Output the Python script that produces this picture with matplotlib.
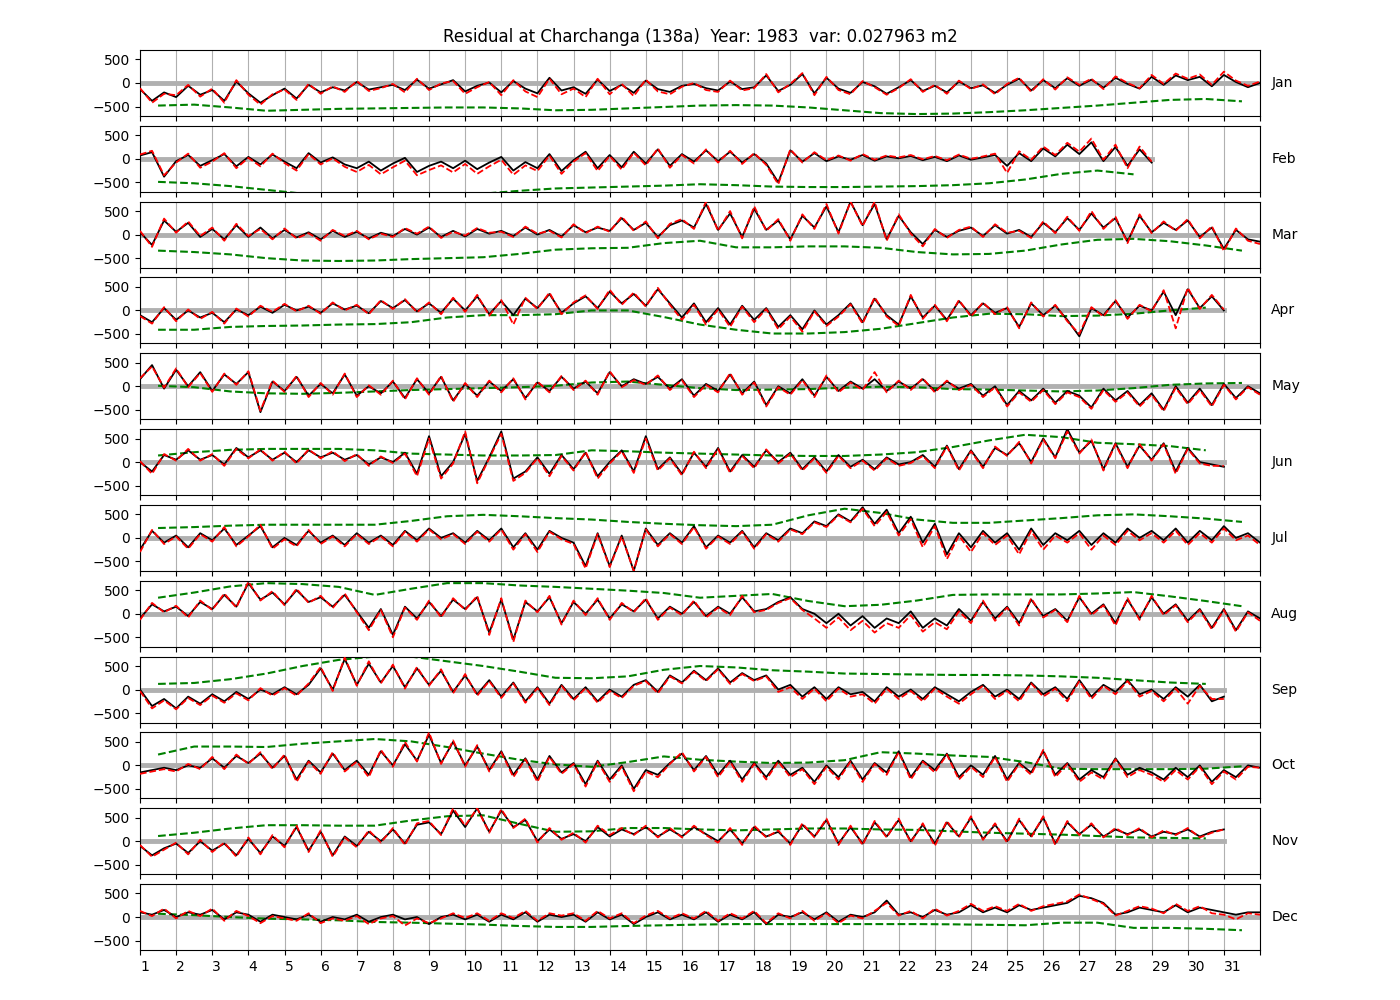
import numpy as np
import matplotlib
matplotlib.use("Agg")
import matplotlib.pyplot as plt

months = ["Jan", "Feb", "Mar", "Apr", "May", "Jun", "Jul", "Aug", "Sep", "Oct", "Nov", "Dec"]
ndays = [31, 28, 31, 30, 31, 30, 31, 31, 30, 31, 30, 31]
samples_per_day = 3

obs_jan = [-130, -380, -200, -300, -60, -250, -150, -380, 30, -220, -420, -260, -120, -330, -40,
           -200, -90, -160, 20, -140, -90, -40, -150, 70, -120, -30, 60, -180, -60, 10,
           -200, 40, -120, -220, 110, -160, -90, -230, 70, -170, -40, -210, 50, -130, -190,
           -60, -20, -110, -160, 30, -130, -90, 160, -170, -40, 190, -220, 110, -120, -210,
           20, -70, -230, -90, 60, -170, -60, -200, 30, -110, -50, -210, -40, 90, -160,
           60, -110, 100, -60, 70, -100, 110, -20, -120, 130, -40, 160, 60, 130, -70,
           170, 20, -90, 0]
sim_jan = [-110, -420, -230, -260, -40, -290, -120, -420, 60, -250, -460, -240, -140, -360, -20,
           -230, -70, -190, 40, -170, -110, -20, -200, 90, -150, -10, 40, -230, -90, 20,
           -260, 60, -180, -300, 90, -240, -120, -300, 90, -240, -20, -280, 70, -180, -240,
           -80, 0, -150, -190, 50, -160, -110, 190, -200, -20, 210, -260, 130, -150, -240,
           40, -90, -250, -110, 80, -190, -40, -230, 50, -130, -30, -240, -20, 110, -190,
           80, -140, 120, -40, 90, -130, 140, 0, -110, 170, -20, 200, 90, 180, -40,
           240, 50, -60, 30]
avg_jan = [-480, -460, -520, -590, -570, -550, -540, -530, -520, -520, -540, -580, -570, -540, -510,
           -480, -470, -480, -520, -580, -640, -660, -650, -620, -580, -530, -480, -420, -360, -340, -390]

obs_feb = [70, 140, -380, -50, 80, -150, -30, 100, -160, 40, -120, 90, -60, -200, 120,
           -80, 30, -120, -200, -60, -250, -100, 20, -280, -150, -60, -200, -40, -220, -80,
           40, -250, -70, -200, 100, -260, -30, 150, -200, 80, -180, 150, -100, 200, -150,
           100, -60, 180, -50, 150, -80, 100, -100, -500, 180, -60, 120, -50, 50, -20,
           80, -40, 50, 10, 60, -30, 40, -50, 70, -20, 30, 80, -150, 120, -50,
           220, 50, 300, 100, 350, -50, 250, -150, 200, -80]
sim_feb = [90, 170, -350, -80, 110, -190, -60, 120, -200, 20, -160, 110, -90, -250, 100,
           -120, 10, -170, -280, -130, -330, -180, -40, -350, -240, -140, -290, -110, -320, -160,
           -20, -340, -140, -260, 70, -320, -60, 120, -260, 60, -230, 130, -140, 220, -190,
           80, -100, 200, -80, 170, -110, 120, -130, -540, 200, -80, 140, -30, 70, -40,
           100, -20, 70, 30, 80, -10, 60, -30, 90, 0, 50, 110, -300, 160, -20,
           260, 80, 340, 150, 430, -20, 300, -200, 260, -60]
avg_feb = [-490, -520, -580, -660, -740, -780, -800, -800, -780, -740, -680, -630, -610, -590,
           -570, -540, -560, -590, -600, -600, -590, -580, -560, -520, -440, -320, -250, -330]

obs_mar = [50, -220, 300, 60, 250, -50, 120, -100, 200, -50, 150, -80, 100, -60, 50,
           -100, 80, -50, 60, -80, 40, -30, 120, 0, 150, -50, 80, -40, 120, 20,
           80, -30, 150, 0, 100, -40, 200, 50, 150, 80, 350, 100, 250, -50, 200,
           300, 150, 650, 100, 450, -50, 550, 100, 300, -100, 400, 150, 600, 50, 700,
           200, 650, -100, 400, 50, -200, 100, -50, 80, 150, -30, 200, 20, 100, -50,
           250, 50, 350, 100, 450, 150, 350, -150, 400, 50, 250, 100, 300, -50, 150,
           -300, 100, -100, -150]
sim_mar = [80, -260, 340, 40, 280, -30, 150, -130, 230, -30, 120, -100, 130, -80, 30,
           -130, 100, -30, 80, -100, 20, -50, 140, 20, 170, -70, 60, -20, 140, 40,
           60, -50, 170, 20, 80, -60, 220, 30, 170, 60, 380, 80, 280, -80, 230,
           330, 120, 700, 80, 500, -80, 600, 80, 330, -130, 430, 120, 650, 20, 700,
           180, 700, -130, 430, 20, -250, 120, -70, 100, 170, -50, 220, 40, 80, -70,
           280, 30, 380, 80, 500, 120, 380, -180, 430, 30, 280, 80, 330, -80, 180,
           -350, 130, -130, -200]
avg_mar = [-340, -370, -420, -500, -550, -560, -550, -520, -500, -480, -410, -320, -290, -280, -180,
           -130, -270, -270, -250, -250, -280, -370, -420, -410, -340, -210, -110, -90, -140, -230, -340]

obs_apr = [-100, -250, 50, -200, 0, -150, -50, -250, 20, -100, 80, -50, 120, 0, 80,
           -50, 150, 20, 100, -60, 200, 50, 220, -20, 150, -50, 250, 0, 300, -80,
           200, -100, 250, 50, 350, -50, 150, 300, 50, 400, 150, 350, 100, 450, 150,
           -150, 150, -250, 50, -300, 100, -200, 50, -350, -100, -400, 0, -300, -100, 150,
           -250, 250, -100, -300, 300, -150, 100, -200, 200, -100, 150, -50, 50, -350, 150,
           -100, 100, -200, -550, 50, -100, 200, -150, 100, 0, 400, -100, 450, 50, 300, 0]
sim_apr = [-120, -280, 70, -230, 20, -180, -30, -280, 40, -130, 100, -30, 140, -20, 100,
           -70, 170, 0, 120, -80, 220, 30, 240, -40, 170, -80, 270, -30, 330, -110,
           220, -300, 270, 30, 380, -80, 170, 320, 30, 440, 120, 380, 80, 480, 120,
           -200, 120, -300, 20, -350, 80, -250, 30, -400, -130, -450, -20, -330, -130, 130,
           -280, 280, -130, -330, 330, -180, 120, -230, 220, -130, 170, -80, 70, -380, 170,
           -130, 120, -230, -500, 70, -130, 220, -180, 120, -20, 430, -380, 480, 30, 330, 20]
avg_apr = [-410, -410, -350, -330, -320, -300, -290, -250, -150, -100, -100, -80, 0, 0, -140,
           -300, -410, -490, -490, -460, -390, -270, -150, -70, -80, -120, -110, -70, 0, 60]

obs_may = [150, 450, -50, 350, 0, 300, -100, 250, 50, 300, -550, 100, -100, 200, -200,
           50, -150, 250, -200, 0, -150, 100, -250, 150, -150, 200, -300, 50, -200, 100,
           -100, 150, -250, 80, -100, 200, -50, 100, -150, 300, 0, 150, 50, 200, -50,
           150, -200, 50, -100, 250, -150, 100, -400, 0, -150, 150, -200, 200, -100, 100,
           -50, 150, -100, 100, -50, 150, -100, 100, -50, 50, -200, 0, -400, -100, -300,
           -50, -350, -100, -200, -450, -50, -300, -100, -400, -150, -500, 0, -350, -50, -400,
           50, -250, 0, -150]
sim_may = [170, 420, -30, 380, -20, 280, -120, 270, 30, 320, -520, 120, -120, 220, -230,
           70, -180, 270, -230, 20, -180, 120, -280, 170, -180, 220, -330, 70, -230, 120,
           -130, 170, -280, 100, -130, 220, -80, 120, -180, 320, -20, 130, 30, 230, -80,
           130, -230, 30, -130, 280, -180, 80, -430, -20, -180, 130, -230, 230, -130, 80,
           -80, 300, -130, 120, -80, 170, -130, 120, -80, 30, -230, -20, -430, -130, -330,
           -80, -380, -130, -230, -480, -80, -330, -130, -430, -180, -530, -30, -380, -80, -430,
           30, -280, -20, -180]
avg_may = [10, -20, -110, -150, -160, -140, -110, -80, -60, -40, -20, 10, 80, 100, 30,
           -40, -80, -70, -60, -30, -10, -20, -60, -70, -90, -110, -90, -40, 30, 60, 70]

obs_jun = [0, -200, 150, 50, 250, 50, 150, -50, 300, 100, 250, 50, 200, 0, 250,
           100, 200, 50, 150, -50, 100, 0, 200, -250, 550, -300, 0, 600, -400, 100,
           650, -350, -200, 100, -250, 150, -150, 200, -300, 0, 250, -200, 550, -150, 100,
           -250, 200, -100, 300, -200, 150, -100, 250, 0, 200, -150, 100, -200, 150, -100,
           50, -150, 100, -50, 0, 150, -100, 350, -150, 250, -100, 300, 150, 400, 0,
           500, 100, 700, 200, 450, -150, 400, -100, 350, 50, 400, -200, 300, 0, -50, -100]
sim_jun = [20, -250, 170, 30, 280, 30, 170, -80, 280, 80, 270, 30, 220, -30, 270,
           80, 230, 20, 170, -80, 120, -20, 180, -300, 500, -350, -30, 650, -450, 80,
           600, -400, -230, 80, -300, 130, -180, 220, -350, -30, 230, -230, 500, -180, 80,
           -280, 220, -130, 280, -230, 130, -130, 270, -30, 180, -180, 80, -230, 130, -130,
           30, -180, 80, -80, -20, 130, -130, 330, -180, 230, -130, 330, 130, 430, -30,
           480, 80, 650, 180, 480, -180, 380, -130, 380, 30, 380, -250, 280, -30, -80, -80]
avg_jun = [140, 210, 260, 280, 280, 280, 250, 180, 160, 140, 140, 150, 250, 230, 200,
           180, 160, 140, 130, 130, 160, 210, 320, 460, 580, 530, 410, 380, 340, 250]

obs_jul = [-250, 150, -100, 50, -200, 100, -50, 200, -150, 50, 250, -200, 0, -150, 150,
           -100, 50, -150, 100, -100, 50, -150, 150, -50, 200, 0, 100, -100, 150, -50,
           200, -200, 100, -250, 150, 0, -100, -600, 100, -600, 50, -700, 200, -150, 100,
           -100, 250, -200, 50, -100, 150, -200, 100, -50, 200, 100, 350, 250, 500, 350,
           650, 300, 600, 100, 450, -100, 300, -350, 100, -200, 150, -100, 100, -250, 200,
           -150, 100, -50, 150, -150, 100, -100, 200, 0, 150, -50, 200, -100, 150, -50,
           250, 0, 100, -100]
sim_jul = [-300, 170, -130, 30, -230, 80, -80, 230, -180, 30, 280, -230, -30, -180, 170,
           -130, 30, -180, 80, -130, 30, -180, 130, -80, 180, -30, 80, -130, 130, -80,
           180, -250, 80, -300, 130, -30, -130, -650, 80, -620, 30, -700, 180, -180, 80,
           -130, 230, -230, 30, -130, 130, -230, 80, -80, 180, 80, 330, 230, 480, 330,
           620, 250, 550, 50, 400, -200, 250, -450, 50, -300, 100, -150, 50, -350, 150,
           -250, 50, -100, 100, -250, 50, -150, 150, -50, 100, -100, 150, -150, 100, -100,
           200, -50, 50, -150]
avg_jul = [210, 230, 260, 280, 280, 280, 280, 360, 460, 490, 460, 420, 390, 340, 300,
           270, 250, 280, 480, 620, 530, 390, 320, 320, 370, 420, 480, 500, 460, 410, 340]

obs_aug = [-100, 200, 50, 150, -50, 250, 100, 400, 150, 650, 300, 450, 200, 500, 250,
           350, 150, 400, 50, -300, 100, -450, 150, -100, 250, -50, 300, 100, 350, -400,
           300, -550, 250, 50, 350, -200, 250, 0, 300, -100, 200, 50, 300, -100, 150,
           0, 250, -50, 150, 0, 350, 50, 100, 250, 350, 100, 0, -200, 0, -250,
           -50, -300, -100, -200, 50, -300, -100, -250, 100, -150, 250, -100, 150, -200, 300,
           -50, 100, -150, 350, 0, 200, -200, 300, -100, 350, 0, 200, -150, 100, -300,
           100, -350, 50, -100]
sim_aug = [-130, 230, 30, 170, -80, 280, 80, 430, 130, 680, 280, 480, 180, 530, 230,
           380, 120, 430, 30, -350, 80, -500, 130, -130, 280, -80, 330, 80, 380, -450,
           330, -600, 280, 30, 380, -230, 280, -30, 330, -130, 230, 30, 330, -130, 130,
           -30, 280, -80, 130, -30, 380, 30, 80, 230, 330, 80, -100, -300, -80, -350,
           -150, -400, -200, -300, -30, -380, -180, -330, 50, -200, 280, -150, 130, -250, 330,
           -80, 80, -180, 380, -30, 180, -250, 330, -130, 380, -30, 180, -180, 80, -330,
           80, -380, 30, -150]
avg_aug = [340, 450, 580, 650, 630, 570, 400, 530, 650, 650, 600, 570, 530, 490, 440,
           340, 380, 420, 270, 160, 190, 280, 400, 410, 410, 410, 430, 460, 370, 270, 160]

obs_sep = [0, -350, -200, -400, -150, -300, -100, -250, -50, -200, 0, -100, 50, -100, 100,
           450, 0, 650, 100, 550, 150, 500, 50, 450, 100, 400, -50, 300, -100, 200,
           -150, 150, -250, 50, -300, 100, -200, 50, -250, 0, -150, 100, 200, -50, 300,
           150, 400, 200, 450, 150, 350, 200, 300, 0, 100, -150, 50, -200, 50, -100,
           -50, -250, 50, -150, 0, -200, 50, -100, -250, -50, 100, -150, 0, -200, 150,
           -100, 50, -200, 200, -150, 100, -50, 200, -100, 0, -200, 50, -150, 100, -250, -150]
sim_sep = [-30, -400, -230, -420, -180, -330, -130, -280, -80, -230, 30, -130, 30, -130, 130,
           480, -30, 680, 80, 600, 130, 530, 20, 480, 80, 430, -80, 330, -130, 180,
           -180, 130, -280, 30, -330, 80, -230, 30, -280, -30, -180, 80, 180, -80, 280,
           130, 380, 180, 430, 120, 330, 180, 280, -50, 50, -200, 20, -250, 20, -150,
           -100, -300, 20, -200, -30, -250, 20, -150, -300, -100, 80, -200, -30, -250, 130,
           -150, 20, -250, 180, -200, 80, -100, 180, -150, -30, -250, 20, -300, 80, -200, -200]
avg_sep = [120, 140, 220, 340, 500, 630, 700, 700, 600, 500, 380, 250, 240, 280, 420,
           500, 470, 410, 380, 340, 330, 320, 310, 310, 300, 280, 250, 200, 150, 120]

obs_oct = [-150, -100, -50, -100, 0, -50, 150, -50, 200, 50, 250, -50, 200, -300, 100,
           -150, 250, -100, 100, -200, 300, 0, 450, 100, 650, 50, 500, 0, 400, -100,
           300, -200, 150, -300, 200, -150, 50, -400, 100, -300, 0, -500, -100, -200, 50,
           250, -100, 200, -200, 100, -300, 50, -250, 100, -200, -50, -350, 0, -250, 100,
           -300, 50, -150, 300, -250, 100, -100, 250, -250, 0, -200, 200, -300, 50, -150,
           300, -200, 50, -300, -100, -250, 150, -200, -50, -150, -300, -50, -250, 0, -350,
           -100, -250, 0, -50]
sim_oct = [-180, -130, -80, -130, 30, -80, 180, -80, 230, 30, 280, -80, 230, -350, 80,
           -180, 280, -130, 80, -250, 330, -30, 500, 80, 700, 30, 530, -30, 430, -130,
           280, -250, 130, -350, 180, -180, 30, -450, 80, -350, -30, -550, -130, -250, 30,
           280, -130, 180, -250, 80, -350, 30, -300, 80, -250, -80, -400, -30, -300, 80,
           -350, 30, -200, 280, -300, 80, -150, 230, -300, -30, -250, 180, -350, 30, -200,
           330, -250, 30, -350, -150, -300, 130, -250, -100, -200, -350, -100, -300, -30, -400,
           -130, -300, -30, -50]
avg_oct = [230, 400, 400, 390, 460, 510, 560, 510, 390, 250, 120, 20, -30, 70, 190,
           120, 80, 50, 60, 110, 280, 250, 210, 180, 70, -70, -80, -80, -80, -70, -20]

obs_nov = [-100, -300, -150, -50, -250, 0, -200, -50, -300, 50, -250, 100, -100, 300, -200,
           200, -300, 100, -100, 200, 0, 250, -50, 350, 400, 150, 650, 300, 700, 200,
           650, 300, 450, 0, 250, 50, 150, 0, 300, 100, 250, 150, 300, 100, 250,
           100, 300, 150, 0, 250, -50, 300, 100, 200, -50, 350, 100, 450, -50, 300,
           -50, 400, 100, 450, 0, 350, -50, 400, 100, 500, 50, 350, 0, 450, 100,
           500, -50, 400, 150, 350, 100, 250, 150, 250, 100, 200, 150, 250, 100, 200, 250]
sim_nov = [-80, -330, -180, -30, -280, 30, -230, -30, -330, 80, -280, 130, -130, 330, -230,
           230, -330, 80, -130, 230, -30, 280, -80, 380, 430, 130, 700, 330, 700, 180,
           680, 280, 480, -30, 280, 30, 180, -30, 330, 130, 280, 130, 330, 80, 280,
           80, 330, 130, -30, 280, -80, 330, 80, 230, -80, 380, 80, 480, -80, 330,
           -80, 430, 80, 480, -30, 380, -100, 430, 80, 530, 30, 380, -30, 480, 80,
           530, -80, 430, 130, 380, 80, 280, 130, 280, 80, 230, 130, 280, 80, 180, 250]
avg_nov = [110, 180, 270, 340, 340, 330, 330, 440, 530, 550, 370, 200, 210, 280, 280,
           250, 230, 250, 270, 270, 250, 240, 210, 180, 160, 140, 110, 80, 70, 60]

obs_dec = [100, 50, 150, 0, 100, 50, 150, -50, 100, 50, -100, 50, 0, -50, 50,
           -100, 0, -50, 50, -100, 0, 50, -50, 0, -150, 0, 50, -50, 50, -100,
           50, -50, 100, -100, 50, 0, 50, -100, 100, -50, 50, -150, 0, 100, -50,
           50, -50, 100, -100, 50, -50, 100, -150, 50, 0, 100, -50, 100, -100, 50,
           0, 100, 350, 50, 100, 0, 150, 50, 100, 250, 100, 200, 100, 250, 150,
           200, 250, 300, 450, 400, 300, 50, 100, 200, 150, 100, 250, 100, 200, 150,
           100, 50, 100, 100]
sim_dec = [130, 20, 180, -30, 130, 20, 180, -80, 130, 20, -130, 20, -30, -80, 80,
           -130, -30, -80, 20, -150, -30, 20, -180, -30, -130, -30, 80, -20, 80, -80,
           80, -20, 130, -80, 80, 30, 80, -80, 130, -30, 80, -130, 30, 130, -30,
           80, -30, 130, -80, 80, -30, 130, -130, 80, -30, 130, -80, 80, -130, 30,
           -30, 130, 300, 30, 130, -30, 180, 30, 130, 280, 130, 230, 130, 280, 130,
           230, 280, 330, 480, 380, 280, 30, 130, 230, 180, 80, 280, 130, 230, 80,
           50, -50, 80, 50]
avg_dec = [70, 40, 0, -35, -50, -70, -105, -120, -140, -160, -190, -210, -210, -190, -175,
           -160, -150, -150, -150, -150, -150, -150, -155, -165, -175, -120, -120, -230, -230, -250, -280]

observed = [obs_jan, obs_feb, obs_mar, obs_apr, obs_may, obs_jun,
            obs_jul, obs_aug, obs_sep, obs_oct, obs_nov, obs_dec]
simulated = [sim_jan, sim_feb, sim_mar, sim_apr, sim_may, sim_jun,
             sim_jul, sim_aug, sim_sep, sim_oct, sim_nov, sim_dec]
daily_mean = [avg_jan, avg_feb, avg_mar, avg_apr, avg_may, avg_jun,
              avg_jul, avg_aug, avg_sep, avg_oct, avg_nov, avg_dec]

fig, axes = plt.subplots(12, 1, figsize=(14, 10), dpi=100, sharex=True)
fig.subplots_adjust(left=0.1, right=0.9, top=0.95, bottom=0.05, hspace=0.15)

for i, ax in enumerate(axes):
    nd = ndays[i]
    obs = np.array(observed[i], dtype=float)
    sim = np.array(simulated[i], dtype=float)
    avg = np.array(daily_mean[i], dtype=float)
    t = 1 + np.arange(len(obs)) / samples_per_day
    ts = 1 + np.arange(len(sim)) / samples_per_day
    td = 1.5 + np.arange(len(avg))
    ax.plot([1, nd + 1], [0, 0], color="#b0b0b0", lw=3.5, zorder=1)
    ax.plot(td, avg, color="green", ls="--", lw=1.5, zorder=2)
    ax.plot(t, obs, color="black", lw=1.3, zorder=3)
    ax.plot(ts, sim, color="red", ls="--", lw=1.3, zorder=4)
    ax.set_xlim(1, 32)
    ax.set_ylim(-700, 700)
    ax.set_yticks([-500, 0, 500])
    ax.set_xticks(range(1, 33))
    ax.grid(axis="x", color="#b0b0b0", lw=0.8)
    ax.set_axisbelow(True)
    ax.text(1.01, 0.5, months[i], transform=ax.transAxes, va="center", ha="left", fontsize=10)

axes[-1].set_xticklabels([str(d) for d in range(1, 32)] + [""])
for lab in axes[-1].get_xticklabels():
    lab.set_horizontalalignment("left")
axes[0].set_title("Residual at Charchanga (138a)  Year: 1983  var: 0.027963 m2", fontsize=12)

fig.savefig("out.png", dpi=100)
